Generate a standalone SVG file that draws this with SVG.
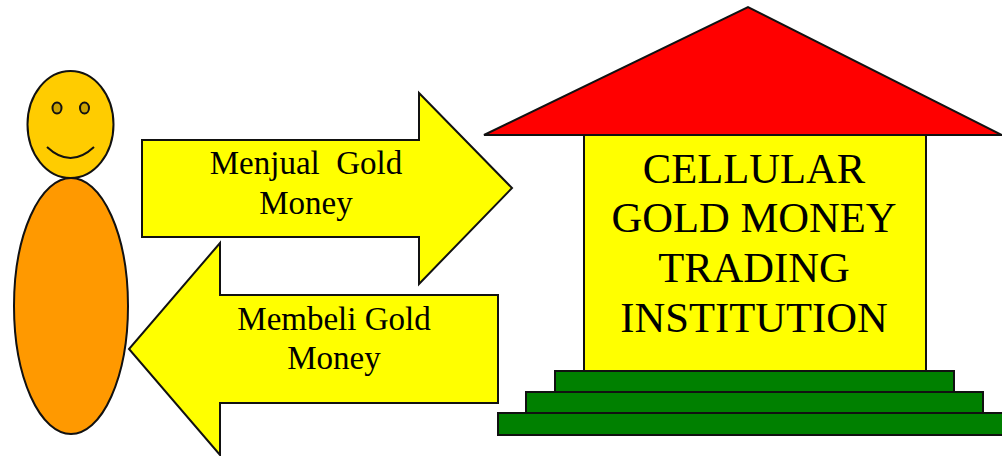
<svg xmlns="http://www.w3.org/2000/svg" width="1002" height="456" viewBox="0 0 1002 456">
<style>
.s{stroke:#111;stroke-width:2;stroke-linejoin:miter}
.y{fill:#ff0}
.g{fill:#008000}
.t{font-family:"Liberation Serif","Times New Roman",serif;fill:#000;text-anchor:middle;white-space:pre}
.a{font-size:33px}
.b{font-size:42.600px}
</style>
<rect width="1002" height="456" fill="#fff"/>
<g id="person">
<ellipse class="s" cx="71" cy="306" rx="57" ry="128" fill="#ff9900"/>
<ellipse class="s" cx="70.500" cy="124.500" rx="43" ry="53.500" fill="#ffcc00"/>
<ellipse class="s" cx="57" cy="108" rx="4.500" ry="5.500" fill="#cca300"/>
<ellipse class="s" cx="84.500" cy="108" rx="4.500" ry="5.500" fill="#cca300"/>
<path class="s" d="M47 147Q70.500 169 94 147" fill="none"/>
</g>
<g id="connectors">
<g id="sell">
<polygon class="s y" points="142,140 419,140 419,93 512,188 419,284 419,237 142,237"/>
<text class="t a" x="306" y="174">Menjual  Gold</text>
<text class="t a" x="306" y="214">Money</text>
</g>
<g id="buy">
<polygon class="s y" points="498,295 220,295 220,243 129,349 220,455 220,403 498,403"/>
<text class="t a" x="334" y="330">Membeli Gold</text>
<text class="t a" x="334" y="369">Money</text>
</g>
</g>
<g id="institution">
<polygon class="s" points="484,135 748,7 1002,135" fill="#f00"/>
<rect class="s y" x="584" y="135" width="342" height="236"/>
<rect class="s g" x="555" y="371" width="399" height="21"/>
<rect class="s g" x="526" y="392" width="457" height="21"/>
<rect class="s g" x="498" y="413" width="506" height="22"/>
<text class="t b" x="754" y="183">CELLULAR</text>
<text class="t b" x="754" y="232">GOLD MONEY</text>
<text class="t b" x="754" y="282">TRADING</text>
<text class="t b" x="754" y="332">INSTITUTION</text>
</g>
</svg>
